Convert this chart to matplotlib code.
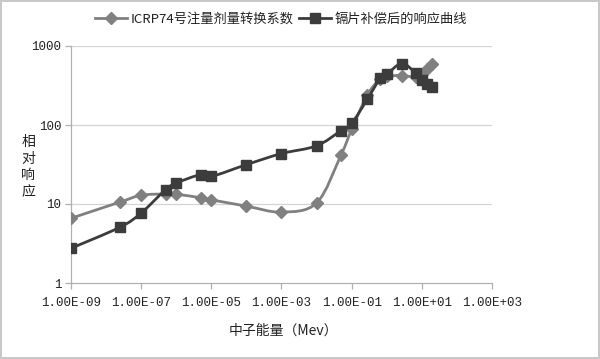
import matplotlib
matplotlib.use("Agg")
import numpy as np
import matplotlib.pyplot as plt
from matplotlib.ticker import FixedLocator, NullLocator, FuncFormatter
from matplotlib.lines import Line2D
from matplotlib.path import Path
from matplotlib.patches import PathPatch

plt.rcParams['font.family'] = ['Noto Sans CJK SC', 'DejaVu Sans']

# ICRP74 conversion coefficients (gray diamonds)
icrp_energy = [1e-9, 2.53e-8, 1e-7, 5e-7, 1e-6, 5e-6, 1e-5, 1e-4, 1e-3, 1e-2,
               5e-2, 0.1, 0.28, 0.65, 1.0, 2.7, 6.7, 10, 14, 19]
icrp_value = [6.6, 10.6, 12.9, 13.4, 13.3, 12.0, 11.3, 9.4, 7.9, 10.3,
              42, 88, 240, 385, 416, 423, 405, 440, 510, 590]

# Response after cadmium compensation (dark squares)
resp_energy = [1e-9, 2.53e-8, 1e-7, 5e-7, 1e-6, 5e-6, 1e-5, 1e-4, 1e-3, 1e-2,
               5e-2, 0.1, 0.28, 0.65, 1.0, 2.7, 6.7, 10, 14, 19]
resp_value = [2.75, 5.1, 7.7, 15.2, 18.4, 23.6, 22.3, 31.5, 43.5, 54.5,
              85, 105, 212, 390, 440, 600, 453, 366, 331, 300]

legend_labels = ['ICRP74号注量剂量转换系数', '镉片补偿后的响应曲线']
x_ticks = [1e-9, 1e-7, 1e-5, 1e-3, 1e-1, 1e1, 1e3]
y_ticks = [1, 10, 100, 1000]
x_label = '中子能量（Mev）'
y_label = '相\n对\n响\n应'

gray = '#808080'
dark = '#3c3c3c'

fig = plt.figure(figsize=(6.0, 3.59), dpi=100)
fig.patch.set_facecolor('white')
fig.patch.set_edgecolor('#c8c8c8')
fig.patch.set_linewidth(1.5)

ax = fig.add_axes([71/600, 1-283/359, (492-71)/600, (283-46)/359])
ax.set_xscale('log')
ax.set_yscale('log')
ax.set_xlim(1e-9, 1e3)
ax.set_ylim(1, 1000)

for y in y_ticks[1:]:
    ax.axhline(y, color='#d4d4d4', lw=0.9, zorder=0)


def smooth_path(xs, ys):
    """Excel-like smoothed line: cubic Bezier segments through the points,
    built in log-log space (matching the axis scaling)."""
    lx = np.log10(xs)
    ly = np.log10(ys)
    n = len(lx)
    verts = [(xs[0], ys[0])]
    codes = [Path.MOVETO]
    for i in range(n - 1):
        p0 = (lx[max(i - 1, 0)], ly[max(i - 1, 0)])
        p1 = (lx[i], ly[i])
        p2 = (lx[i + 1], ly[i + 1])
        p3 = (lx[min(i + 2, n - 1)], ly[min(i + 2, n - 1)])
        c1 = (p1[0] + (p2[0] - p0[0]) / 6, p1[1] + (p2[1] - p0[1]) / 6)
        c2 = (p2[0] - (p3[0] - p1[0]) / 6, p2[1] - (p3[1] - p1[1]) / 6)
        for c in (c1, c2, p2):
            verts.append((10 ** c[0], 10 ** c[1]))
        codes += [Path.CURVE4] * 3
    return Path(verts, codes)


ax.add_patch(PathPatch(smooth_path(icrp_energy, icrp_value), fill=False,
                       edgecolor=gray, lw=2.0, zorder=3, capstyle='round',
                       joinstyle='round'))
ax.plot(icrp_energy, icrp_value, ls='none', marker='D', ms=6.5,
        mfc=gray, mec=gray, zorder=3)
ax.add_patch(PathPatch(smooth_path(resp_energy, resp_value), fill=False,
                       edgecolor=dark, lw=2.0, zorder=4, capstyle='round',
                       joinstyle='round'))
ax.plot(resp_energy, resp_value, ls='none', marker='s', ms=7.5,
        mfc=dark, mec=dark, zorder=4)

for s in ['top', 'right']:
    ax.spines[s].set_visible(False)
for s in ['left', 'bottom']:
    ax.spines[s].set_color('#b0b0b0')
    ax.spines[s].set_linewidth(0.9)

ax.xaxis.set_major_locator(FixedLocator(x_ticks))
ax.xaxis.set_minor_locator(NullLocator())
ax.yaxis.set_major_locator(FixedLocator(y_ticks))
ax.yaxis.set_minor_locator(NullLocator())

ax.xaxis.set_major_formatter(FuncFormatter(lambda v, p: '%.2E' % v))
ax.yaxis.set_major_formatter(FuncFormatter(lambda v, p: '%d' % v))
ax.tick_params(axis='both', which='major', direction='out', length=4,
               color='#b0b0b0', width=0.9, labelsize=9, labelcolor='#222222')
for lbl in ax.get_xticklabels() + ax.get_yticklabels():
    lbl.set_family(['Liberation Mono', 'DejaVu Sans'])
ax.tick_params(axis='x', pad=6)
ax.tick_params(axis='y', pad=3)

fig.text(283/600, 1-331/359, x_label, ha='center', va='center', fontsize=10,
         color='#222222')
fig.text(28/600, 1-167/359, y_label, ha='center', va='center', fontsize=10,
         color='#222222', linespacing=1.25)

handles = [Line2D([], [], color=gray, lw=2.0, marker='D', ms=6, mfc=gray, mec=gray),
           Line2D([], [], color=dark, lw=2.0, marker='s', ms=7, mfc=dark, mec=dark)]
fig.legend(handles, legend_labels, loc='center', bbox_to_anchor=(281/600, 1-19/359),
           ncol=2, frameon=False, fontsize=9.5, handlelength=2.4, handletextpad=0.3,
           columnspacing=0.4, labelcolor='#222222')

fig.savefig('out.png', dpi=100, facecolor=fig.get_facecolor(),
            edgecolor=fig.get_edgecolor())
